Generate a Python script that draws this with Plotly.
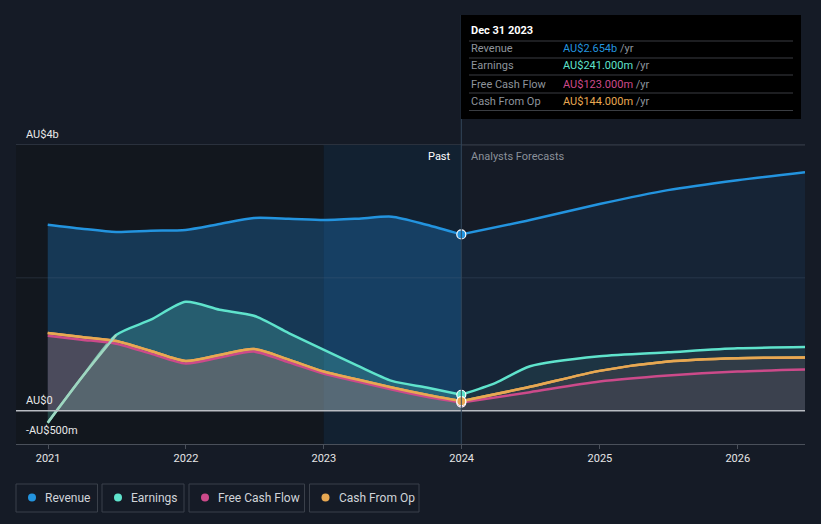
import plotly.graph_objects as go

# ---------------- data (AU$ billions) ----------------
past_dates = ["2020-12-31", "2021-03-31", "2021-06-30", "2021-09-30", "2021-12-31",
              "2022-03-31", "2022-06-30", "2022-09-30", "2022-12-31",
              "2023-03-31", "2023-06-30", "2023-09-30", "2023-12-31"]
revenue_past = [2.80, 2.74, 2.69, 2.71, 2.72, 2.81, 2.90, 2.89, 2.87, 2.89, 2.92, 2.80, 2.654]
earnings_past = [-0.18, 0.50, 1.14, 1.37, 1.64, 1.52, 1.43, 1.17, 0.92, 0.68, 0.45, 0.35, 0.241]
cfo_past = [1.17, 1.11, 1.05, 0.90, 0.75, 0.84, 0.93, 0.77, 0.59, 0.47, 0.35, 0.24, 0.144]
fcf_past = [1.13, 1.07, 1.01, 0.86, 0.71, 0.80, 0.89, 0.73, 0.56, 0.44, 0.32, 0.21, 0.123]

fc_dates = ["2023-12-31", "2024-06-30", "2024-12-31", "2025-06-30", "2025-12-31", "2026-06-28"]
revenue_fc = [2.654, 2.87, 3.11, 3.32, 3.47, 3.59]
earnings_fc_dates = ["2023-12-31", "2024-03-31", "2024-06-30", "2024-12-31", "2025-06-30", "2025-12-31", "2026-06-28"]
earnings_fc = [0.241, 0.42, 0.67, 0.82, 0.88, 0.94, 0.96]
cfo_fc = [0.144, 0.36, 0.60, 0.74, 0.79, 0.80]
fcf_fc = [0.123, 0.28, 0.44, 0.53, 0.59, 0.62]

series_names = ["Revenue", "Earnings", "Free Cash Flow", "Cash From Op"]
series_colors = ["#2394df", "#5fe3cc", "#cc4a8a", "#e8a852"]
tooltip_values = ["AU$2.654b", "AU$241.000m", "AU$123.000m", "AU$144.000m"]
tooltip_date = "Dec 31 2023"

y_tick_vals = [4, 0, -0.5]
y_tick_text = ["AU$4b", "AU$0", "-AU$500m"]
x_tick_vals = ["2021-01-01", "2022-01-01", "2023-01-01", "2024-01-01", "2025-01-01", "2026-01-01"]
x_tick_text = ["2021", "2022", "2023", "2024", "2025", "2026"]

BG = "#151b26"
FONT = "Roboto"

fig = go.Figure()

sp = dict(shape="spline", smoothing=0.7)

# Revenue
fig.add_trace(go.Scatter(x=past_dates, y=revenue_past, mode="lines", fill="tozeroy",
                         fillcolor="rgba(33,150,243,0.26)",
                         line=dict(color=series_colors[0], width=2.5, **sp)))
fig.add_trace(go.Scatter(x=fc_dates, y=revenue_fc, mode="lines", fill="tozeroy",
                         fillcolor="rgba(33,150,243,0.08)",
                         line=dict(color=series_colors[0], width=2.5, **sp)))
# Earnings
fig.add_trace(go.Scatter(x=past_dates, y=earnings_past, mode="lines", fill="tozeroy",
                         fillcolor="rgba(95,227,204,0.22)",
                         line=dict(color=series_colors[1], width=2.5, **sp)))
fig.add_trace(go.Scatter(x=earnings_fc_dates, y=earnings_fc, mode="lines", fill="tozeroy",
                         fillcolor="rgba(95,227,204,0.09)",
                         line=dict(color=series_colors[1], width=2.5, **sp)))
# Cash from op (fill) and FCF
fig.add_trace(go.Scatter(x=past_dates, y=cfo_past, mode="lines", fill="tozeroy",
                         fillcolor="rgba(200,120,110,0.30)",
                         line=dict(color=series_colors[3], width=2.5, **sp)))
fig.add_trace(go.Scatter(x=fc_dates, y=cfo_fc, mode="lines", fill="tozeroy",
                         fillcolor="rgba(200,120,110,0.12)",
                         line=dict(color=series_colors[3], width=2.5, **sp)))
fig.add_trace(go.Scatter(x=past_dates, y=fcf_past, mode="lines",
                         line=dict(color=series_colors[2], width=2.5, **sp)))
fig.add_trace(go.Scatter(x=fc_dates, y=fcf_fc, mode="lines", fill="tozeroy",
                         fillcolor="rgba(150,120,150,0.10)",
                         line=dict(color=series_colors[2], width=2.5, **sp)))
# redraw CFO line on top of FCF
fig.add_trace(go.Scatter(x=past_dates, y=cfo_past, mode="lines",
                         line=dict(color=series_colors[3], width=2.5, **sp)))
fig.add_trace(go.Scatter(x=fc_dates, y=cfo_fc, mode="lines",
                         line=dict(color=series_colors[3], width=2.5, **sp)))
# pale early earnings segment (seen through the cash fill)
fig.add_trace(go.Scatter(x=past_dates[:3], y=earnings_past[:3], mode="lines",
                         line=dict(color="#9fd6c0", width=2.5, **sp)))

# markers at the hover date
last_vals = [revenue_past[-1], earnings_past[-1], fcf_past[-1], cfo_past[-1]]
for v, c in zip(last_vals, series_colors):
    fig.add_trace(go.Scatter(x=[past_dates[-1]], y=[v], mode="markers",
                             marker=dict(size=9, color=c, line=dict(color="white", width=1.2))))

shapes = []
# darker past panel
shapes.append(dict(type="rect", xref="x", yref="y", x0="2020-10-08", x1="2023-01-01", y0=-0.5, y1=4,
                   fillcolor="#12171e", line_width=0, layer="below"))
# hover band
shapes.append(dict(type="rect", xref="x", yref="y", x0="2023-01-01", x1="2023-12-31", y0=-0.5, y1=4,
                   fillcolor="#122131", line_width=0, layer="below"))
# gridlines
shapes.append(dict(type="line", xref="paper", yref="y", x0=0, x1=1, y0=4, y1=4,
                   line=dict(color="#3b424e", width=1), layer="below"))
shapes.append(dict(type="line", xref="paper", yref="y", x0=0, x1=1, y0=2, y1=2,
                   line=dict(color="rgba(90,110,135,0.25)", width=1), layer="above"))
shapes.append(dict(type="line", xref="paper", yref="y", x0=0, x1=1, y0=0, y1=0,
                   line=dict(color="#b8bcc2", width=1.3), layer="above"))
# vertical hover line
shapes.append(dict(type="line", xref="x", yref="paper", x0="2023-12-31", x1="2023-12-31", y0=0, y1=1,
                   line=dict(color="#33465a", width=1), layer="above"))


# tooltip box (paper coords: plot spans px 16..805 horizontally, 15..444 vertically)
def px_x(p):
    return (p - 16) / 789.0


def px_y(p):
    return (444 - p) / 429.0


shapes.append(dict(type="rect", xref="paper", yref="paper", x0=px_x(461), x1=px_x(801),
                   y0=px_y(119), y1=px_y(15), fillcolor="#000000", line_width=0, layer="above"))
for yy in [41, 58, 75, 93, 110.5]:
    shapes.append(dict(type="line", xref="paper", yref="paper", x0=px_x(469), x1=px_x(793),
                       y0=px_y(yy), y1=px_y(yy), line=dict(color="#3a3d42", width=1), layer="above"))

annotations = []
annotations.append(dict(xref="paper", yref="paper", x=px_x(469), y=px_y(31), text="<b>" + tooltip_date + "</b>",
                        showarrow=False, xanchor="left", yanchor="middle",
                        font=dict(family=FONT, size=11, color="#ffffff")))
row_y = [49, 66, 84, 101]
for name, val, c, yy in zip(series_names, tooltip_values, series_colors, row_y):
    annotations.append(dict(xref="paper", yref="paper", x=px_x(469), y=px_y(yy), text=name,
                            showarrow=False, xanchor="left", yanchor="middle",
                            font=dict(family=FONT, size=11, color="#8e949c")))
    annotations.append(dict(xref="paper", yref="paper", x=px_x(561), y=px_y(yy),
                            text="<span style='color:%s'>%s</span> /yr" % (c, val),
                            showarrow=False, xanchor="left", yanchor="middle",
                            font=dict(family=FONT, size=11, color="#8e949c")))

# Past / Analysts Forecasts
annotations.append(dict(xref="paper", yref="paper", x=px_x(453), y=px_y(156), text="Past",
                        showarrow=False, xanchor="right", yanchor="middle",
                        font=dict(family=FONT, size=11, color="#ffffff")))
annotations.append(dict(xref="paper", yref="paper", x=px_x(469), y=px_y(156), text="Analysts Forecasts",
                        showarrow=False, xanchor="left", yanchor="middle",
                        font=dict(family=FONT, size=11, color="#8a9099")))

# y labels
for v, t in zip(y_tick_vals, y_tick_text):
    annotations.append(dict(xref="paper", yref="y", x=px_x(24), y=v, text=t, showarrow=False,
                            xanchor="left", yanchor="bottom", yshift=2 if v != -0.5 else 5,
                            font=dict(family=FONT, size=11, color="#e8e8e8")))

# custom legend
legend_boxes = [(16, 97.5), (102, 184), (189, 304.5), (309.5, 419)]
for (x0, x1), name, c in zip(legend_boxes, series_names, series_colors):
    shapes.append(dict(type="rect", xref="paper", yref="paper", x0=px_x(x0), x1=px_x(x1),
                       y0=px_y(512), y1=px_y(484), line=dict(color="#3a404a", width=1),
                       fillcolor="rgba(0,0,0,0)"))
    shapes.append(dict(type="circle", xref="paper", yref="paper", x0=px_x(x0 + 12), x1=px_x(x0 + 20),
                       y0=px_y(501.5), y1=px_y(493.5), line_width=0, fillcolor=c))
    annotations.append(dict(xref="paper", yref="paper", x=px_x(x0 + 27), y=px_y(497.5),
                            text=name, showarrow=False, xanchor="left", yanchor="middle",
                            font=dict(family=FONT, size=12, color="#d0d4d9")))

fig.update_layout(
    width=821, height=524,
    margin=dict(l=16, r=16, t=15, b=80),
    paper_bgcolor=BG, plot_bgcolor=BG,
    showlegend=False,
    shapes=shapes, annotations=annotations,
    xaxis=dict(type="date", range=["2020-10-08", "2026-06-28"], tickvals=x_tick_vals, ticktext=x_tick_text,
               showgrid=False, zeroline=False, showline=True, linecolor="#4a505a", linewidth=1,
               ticks="outside", ticklen=4, tickcolor="#4a505a",
               tickfont=dict(family=FONT, size=11, color="#e6e6e6")),
    yaxis=dict(range=[-0.5, 5.955], showgrid=False, zeroline=False, showticklabels=False, fixedrange=True),
)

fig.write_html("out.html", config={"displayModeBar": False},
               post_script="document.body.style.margin='0';document.body.style.background='%s';" % BG)
